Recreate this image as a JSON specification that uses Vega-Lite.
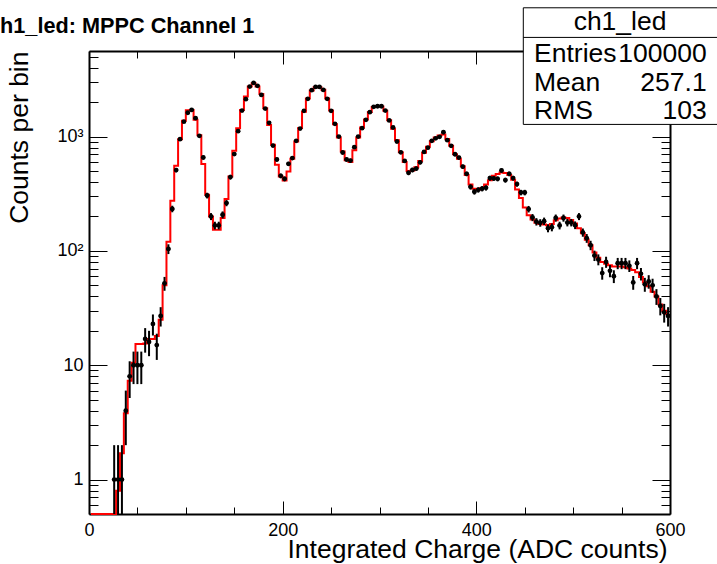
{
"$schema": "https://vega.github.io/schema/vega-lite/v6.json",
"width": 581, "height": 463,
"autosize": "none",
"padding": {"left": 89, "top": 51, "right": 47, "bottom": 50},
"background": "white",
"config": {
  "view": {"stroke": null},
  "font": "Liberation Sans",
  "axis": {"domainColor": "black", "domainWidth": 2, "tickColor": "black", "tickWidth": 1, "labelColor": "black", "labelFont": "Liberation Sans", "labelFontSize": 18, "grid": false, "labelOverlap": false, "labelFlush": false, "titleColor": "black", "titleFont": "Liberation Sans", "titleFontSize": 26.5, "titleFontWeight": "normal"}
},
"title": {"text": "ch1_led: MPPC Channel 1", "anchor": "start", "frame": "group", "dx": -101, "dy": 47, "offset": 0, "baseline": "alphabetic", "fontSize": 21.7, "fontWeight": "bold", "font": "Liberation Sans", "color": "black"},
"datasets": {
"model": [
{"c":2,"m":0.5},{"c":6,"m":0.5},{"c":10,"m":0.5},{"c":14,"m":0.5},{"c":18,"m":0.5},{"c":22,"m":0.5},{"c":26,"m":0.5},{"c":30,"m":0.8},{"c":34,"m":1.7},{"c":38,"m":3.8},
{"c":42,"m":7.3},{"c":46,"m":10.5},{"c":50,"m":15.3},{"c":54,"m":15.3},{"c":58,"m":15.5},{"c":62,"m":17},{"c":66,"m":17},{"c":70,"m":18},{"c":74,"m":25},{"c":78,"m":50},
{"c":82,"m":120},{"c":86,"m":274},{"c":90,"m":555},{"c":94,"m":949},{"c":98,"m":1372},{"c":102,"m":1700},{"c":106,"m":1711},{"c":110,"m":1400},{"c":114,"m":1028},{"c":118,"m":575},
{"c":122,"m":310},{"c":126,"m":200},{"c":130,"m":153},{"c":134,"m":153},{"c":138,"m":194},{"c":142,"m":284},{"c":146,"m":448},{"c":150,"m":750},{"c":154,"m":1184},{"c":158,"m":1711},
{"c":162,"m":2238},{"c":166,"m":2735},{"c":170,"m":2930},{"c":174,"m":2735},{"c":178,"m":2361},{"c":182,"m":1771},{"c":186,"m":1265},{"c":190,"m":847},{"c":194,"m":566},{"c":198,"m":448},
{"c":202,"m":413},{"c":206,"m":494},{"c":210,"m":640},{"c":214,"m":905},{"c":218,"m":1190},{"c":222,"m":1650},{"c":226,"m":2150},{"c":230,"m":2530},{"c":234,"m":2700},{"c":238,"m":2700},
{"c":242,"m":2560},{"c":246,"m":2150},{"c":250,"m":1690},{"c":254,"m":1280},{"c":258,"m":980},{"c":262,"m":740},{"c":266,"m":620},{"c":270,"m":600},{"c":274,"m":760},{"c":278,"m":980},
{"c":282,"m":1200},{"c":286,"m":1410},{"c":290,"m":1640},{"c":294,"m":1810},{"c":298,"m":1850},{"c":302,"m":1830},{"c":306,"m":1680},{"c":310,"m":1390},{"c":314,"m":1170},{"c":318,"m":930},
{"c":322,"m":730},{"c":326,"m":600},{"c":330,"m":500},{"c":334,"m":505},{"c":338,"m":540},{"c":342,"m":610},{"c":346,"m":720},{"c":350,"m":815},{"c":354,"m":910},{"c":358,"m":980},
{"c":362,"m":1020},{"c":366,"m":1040},{"c":370,"m":950},{"c":374,"m":830},{"c":378,"m":700},{"c":382,"m":640},{"c":386,"m":550},{"c":390,"m":460},{"c":394,"m":380},{"c":398,"m":350},
{"c":402,"m":345},{"c":406,"m":355},{"c":410,"m":380},{"c":414,"m":415},{"c":418,"m":455},{"c":422,"m":470},{"c":426,"m":485},{"c":430,"m":480},{"c":434,"m":460},{"c":438,"m":420},
{"c":442,"m":345},{"c":446,"m":290},{"c":450,"m":240},{"c":454,"m":205},{"c":458,"m":188},{"c":462,"m":176},{"c":466,"m":172},{"c":470,"m":170},{"c":474,"m":168},{"c":478,"m":172},
{"c":482,"m":185},{"c":486,"m":192},{"c":490,"m":196},{"c":494,"m":194},{"c":498,"m":186},{"c":502,"m":174},{"c":506,"m":158},{"c":510,"m":143},{"c":514,"m":125},{"c":518,"m":112},
{"c":522,"m":97},{"c":526,"m":87},{"c":530,"m":80},{"c":534,"m":77},{"c":538,"m":75},{"c":542,"m":73},{"c":546,"m":73},{"c":550,"m":73},{"c":554,"m":72},{"c":558,"m":70},
{"c":562,"m":68},{"c":566,"m":65},{"c":570,"m":59},{"c":574,"m":53},{"c":578,"m":49},{"c":582,"m":44},{"c":586,"m":40},{"c":590,"m":34},{"c":594,"m":30},{"c":598,"m":28}
],
"pts": [
{"c":26,"lo":24,"hi":28,"n":1,"elo":0.5,"ehi":2},
{"c":30,"lo":28,"hi":32,"n":1,"elo":0.5,"ehi":2},
{"c":34,"lo":32,"hi":36,"n":1,"elo":0.5,"ehi":2},
{"c":38,"lo":36,"hi":40,"n":4,"elo":2,"ehi":6},
{"c":42,"lo":40,"hi":44,"n":8,"elo":5.17,"ehi":10.83},
{"c":46,"lo":44,"hi":48,"n":10,"elo":6.84,"ehi":13.16},
{"c":50,"lo":48,"hi":52,"n":10,"elo":6.84,"ehi":13.16},
{"c":54,"lo":52,"hi":56,"n":10,"elo":6.84,"ehi":13.16},
{"c":58,"lo":56,"hi":60,"n":17,"elo":12.88,"ehi":21.12},
{"c":62,"lo":60,"hi":64,"n":16,"elo":12,"ehi":20},
{"c":66,"lo":64,"hi":68,"n":23,"elo":18.2,"ehi":27.8},
{"c":70,"lo":68,"hi":72,"n":15,"elo":11.13,"ehi":18.87},
{"c":74,"lo":72,"hi":76,"n":27,"elo":21.8,"ehi":32.2},
{"c":78,"lo":76,"hi":80,"n":52,"elo":44.8,"ehi":59.2},
{"c":82,"lo":80,"hi":84,"n":104,"elo":93.8,"ehi":114.2},
{"c":86,"lo":84,"hi":88,"n":233,"elo":217.7,"ehi":248.3},
{"c":90,"lo":88,"hi":92,"n":509,"elo":486.4,"ehi":531.6},
{"c":94,"lo":92,"hi":96,"n":949,"elo":918.2,"ehi":979.8},
{"c":98,"lo":96,"hi":100,"n":1350,"elo":1313.3,"ehi":1386.7},
{"c":102,"lo":100,"hi":104,"n":1615,"elo":1574.8,"ehi":1655.2},
{"c":106,"lo":104,"hi":108,"n":1711,"elo":1669.6,"ehi":1752.4},
{"c":110,"lo":108,"hi":112,"n":1449,"elo":1410.9,"ehi":1487.1},
{"c":114,"lo":112,"hi":116,"n":1015,"elo":983.1,"ehi":1046.9},
{"c":118,"lo":116,"hi":120,"n":656,"elo":630.4,"ehi":681.6},
{"c":122,"lo":120,"hi":124,"n":305,"elo":287.5,"ehi":322.5},
{"c":126,"lo":124,"hi":128,"n":200,"elo":185.9,"ehi":214.1},
{"c":130,"lo":128,"hi":132,"n":167,"elo":154.1,"ehi":179.9},
{"c":134,"lo":132,"hi":136,"n":167,"elo":154.1,"ehi":179.9},
{"c":138,"lo":136,"hi":140,"n":207,"elo":192.6,"ehi":221.4},
{"c":142,"lo":140,"hi":144,"n":262,"elo":245.8,"ehi":278.2},
{"c":146,"lo":144,"hi":148,"n":442,"elo":421,"ehi":463},
{"c":150,"lo":148,"hi":152,"n":702,"elo":675.5,"ehi":728.5},
{"c":154,"lo":152,"hi":156,"n":1115,"elo":1081.6,"ehi":1148.4},
{"c":158,"lo":156,"hi":160,"n":1687,"elo":1645.9,"ehi":1728.1},
{"c":162,"lo":160,"hi":164,"n":2124,"elo":2077.9,"ehi":2170.1},
{"c":166,"lo":164,"hi":168,"n":2735,"elo":2682.7,"ehi":2787.3},
{"c":170,"lo":168,"hi":172,"n":2944,"elo":2889.7,"ehi":2998.3},
{"c":174,"lo":172,"hi":176,"n":2775,"elo":2722.3,"ehi":2827.7},
{"c":178,"lo":176,"hi":180,"n":2314,"elo":2265.9,"ehi":2362.1},
{"c":182,"lo":180,"hi":184,"n":1757,"elo":1715.1,"ehi":1798.9},
{"c":186,"lo":184,"hi":188,"n":1318,"elo":1281.7,"ehi":1354.3},
{"c":190,"lo":188,"hi":192,"n":834,"elo":805.1,"ehi":862.9},
{"c":194,"lo":192,"hi":196,"n":630,"elo":604.9,"ehi":655.1},
{"c":198,"lo":196,"hi":200,"n":453,"elo":431.7,"ehi":474.3},
{"c":202,"lo":200,"hi":204,"n":427,"elo":406.3,"ehi":447.7},
{"c":206,"lo":204,"hi":208,"n":577,"elo":553,"ehi":601},
{"c":210,"lo":208,"hi":212,"n":648,"elo":622.5,"ehi":673.5},
{"c":214,"lo":212,"hi":216,"n":918,"elo":887.7,"ehi":948.3},
{"c":218,"lo":216,"hi":220,"n":1175,"elo":1140.7,"ehi":1209.3},
{"c":222,"lo":220,"hi":224,"n":1679,"elo":1638,"ehi":1720},
{"c":226,"lo":224,"hi":228,"n":2137,"elo":2090.8,"ehi":2183.2},
{"c":230,"lo":228,"hi":232,"n":2543,"elo":2492.6,"ehi":2593.4},
{"c":234,"lo":232,"hi":236,"n":2718,"elo":2665.9,"ehi":2770.1},
{"c":238,"lo":236,"hi":240,"n":2718,"elo":2665.9,"ehi":2770.1},
{"c":242,"lo":240,"hi":244,"n":2559,"elo":2508.4,"ehi":2609.6},
{"c":246,"lo":244,"hi":248,"n":2137,"elo":2090.8,"ehi":2183.2},
{"c":250,"lo":248,"hi":252,"n":1679,"elo":1638,"ehi":1720},
{"c":254,"lo":252,"hi":256,"n":1291,"elo":1255.1,"ehi":1326.9},
{"c":258,"lo":256,"hi":260,"n":1000,"elo":968.4,"ehi":1031.6},
{"c":262,"lo":260,"hi":264,"n":725,"elo":698.1,"ehi":751.9},
{"c":266,"lo":264,"hi":268,"n":630,"elo":604.9,"ehi":655.1},
{"c":270,"lo":268,"hi":272,"n":617,"elo":592.2,"ehi":641.8},
{"c":274,"lo":272,"hi":276,"n":808,"elo":779.6,"ehi":836.4},
{"c":278,"lo":276,"hi":280,"n":1000,"elo":968.4,"ehi":1031.6},
{"c":282,"lo":280,"hi":284,"n":1184,"elo":1149.6,"ehi":1218.4},
{"c":286,"lo":284,"hi":288,"n":1400,"elo":1362.6,"ehi":1437.4},
{"c":290,"lo":288,"hi":292,"n":1634,"elo":1593.6,"ehi":1674.4},
{"c":294,"lo":292,"hi":296,"n":1820,"elo":1777.3,"ehi":1862.7},
{"c":298,"lo":296,"hi":300,"n":1840,"elo":1797.1,"ehi":1882.9},
{"c":302,"lo":300,"hi":304,"n":1840,"elo":1797.1,"ehi":1882.9},
{"c":306,"lo":304,"hi":308,"n":1687,"elo":1645.9,"ehi":1728.1},
{"c":310,"lo":308,"hi":312,"n":1385,"elo":1347.8,"ehi":1422.2},
{"c":314,"lo":312,"hi":316,"n":1200,"elo":1165.4,"ehi":1234.6},
{"c":318,"lo":316,"hi":320,"n":905,"elo":874.9,"ehi":935.1},
{"c":322,"lo":320,"hi":324,"n":728,"elo":701,"ehi":755},
{"c":326,"lo":324,"hi":328,"n":612,"elo":587.3,"ehi":636.7},
{"c":330,"lo":328,"hi":332,"n":482,"elo":460,"ehi":504},
{"c":334,"lo":332,"hi":336,"n":510,"elo":487.4,"ehi":532.6},
{"c":338,"lo":336,"hi":340,"n":525,"elo":502.1,"ehi":547.9},
{"c":342,"lo":340,"hi":344,"n":595,"elo":570.6,"ehi":619.4},
{"c":346,"lo":344,"hi":348,"n":733,"elo":705.9,"ehi":760.1},
{"c":350,"lo":348,"hi":352,"n":799,"elo":770.7,"ehi":827.3},
{"c":354,"lo":352,"hi":356,"n":918,"elo":887.7,"ehi":948.3},
{"c":358,"lo":356,"hi":360,"n":965,"elo":933.9,"ehi":996.1},
{"c":362,"lo":360,"hi":364,"n":995,"elo":963.5,"ehi":1026.5},
{"c":366,"lo":364,"hi":368,"n":1090,"elo":1057,"ehi":1123},
{"c":370,"lo":368,"hi":372,"n":930,"elo":899.5,"ehi":960.5},
{"c":374,"lo":372,"hi":376,"n":830,"elo":801.2,"ehi":858.8},
{"c":378,"lo":376,"hi":380,"n":700,"elo":673.5,"ehi":726.5},
{"c":382,"lo":380,"hi":384,"n":655,"elo":629.4,"ehi":680.6},
{"c":386,"lo":384,"hi":388,"n":545,"elo":521.7,"ehi":568.3},
{"c":390,"lo":388,"hi":392,"n":472,"elo":450.3,"ehi":493.7},
{"c":394,"lo":392,"hi":396,"n":363,"elo":343.9,"ehi":382.1},
{"c":398,"lo":396,"hi":400,"n":329,"elo":310.9,"ehi":347.1},
{"c":402,"lo":400,"hi":404,"n":342,"elo":323.5,"ehi":360.5},
{"c":406,"lo":404,"hi":408,"n":350,"elo":331.3,"ehi":368.7},
{"c":410,"lo":408,"hi":412,"n":356,"elo":337.1,"ehi":374.9},
{"c":414,"lo":412,"hi":416,"n":433,"elo":412.2,"ehi":453.8},
{"c":418,"lo":416,"hi":420,"n":430,"elo":409.3,"ehi":450.7},
{"c":422,"lo":420,"hi":424,"n":427,"elo":406.3,"ehi":447.7},
{"c":426,"lo":424,"hi":428,"n":505,"elo":482.5,"ehi":527.5},
{"c":430,"lo":428,"hi":432,"n":416,"elo":395.6,"ehi":436.4},
{"c":434,"lo":432,"hi":436,"n":472,"elo":450.3,"ehi":493.7},
{"c":438,"lo":436,"hi":440,"n":433,"elo":412.2,"ehi":453.8},
{"c":442,"lo":440,"hi":444,"n":384,"elo":364.4,"ehi":403.6},
{"c":446,"lo":444,"hi":448,"n":324,"elo":306,"ehi":342},
{"c":450,"lo":448,"hi":452,"n":324,"elo":306,"ehi":342},
{"c":454,"lo":452,"hi":456,"n":232,"elo":216.8,"ehi":247.2},
{"c":458,"lo":456,"hi":460,"n":196,"elo":182,"ehi":210},
{"c":462,"lo":460,"hi":464,"n":180,"elo":166.6,"ehi":193.4},
{"c":466,"lo":464,"hi":468,"n":176,"elo":162.7,"ehi":189.3},
{"c":470,"lo":468,"hi":472,"n":182,"elo":168.5,"ehi":195.5},
{"c":474,"lo":472,"hi":476,"n":158,"elo":145.4,"ehi":170.6},
{"c":478,"lo":476,"hi":480,"n":161,"elo":148.3,"ehi":173.7},
{"c":482,"lo":480,"hi":484,"n":194,"elo":180.1,"ehi":207.9},
{"c":486,"lo":484,"hi":488,"n":167,"elo":154.1,"ehi":179.9},
{"c":490,"lo":488,"hi":492,"n":194,"elo":180.1,"ehi":207.9},
{"c":494,"lo":492,"hi":496,"n":177,"elo":163.7,"ehi":190.3},
{"c":498,"lo":496,"hi":500,"n":177,"elo":163.7,"ehi":190.3},
{"c":502,"lo":500,"hi":504,"n":168,"elo":155,"ehi":181},
{"c":506,"lo":504,"hi":508,"n":200,"elo":185.9,"ehi":214.1},
{"c":510,"lo":508,"hi":512,"n":145,"elo":133,"ehi":157},
{"c":514,"lo":512,"hi":516,"n":129,"elo":117.6,"ehi":140.4},
{"c":518,"lo":516,"hi":520,"n":112,"elo":101.4,"ehi":122.6},
{"c":522,"lo":520,"hi":524,"n":91,"elo":81.5,"ehi":100.5},
{"c":526,"lo":524,"hi":528,"n":84,"elo":74.8,"ehi":93.2},
{"c":530,"lo":528,"hi":532,"n":64,"elo":56,"ehi":72},
{"c":534,"lo":532,"hi":536,"n":80,"elo":71.1,"ehi":88.9},
{"c":538,"lo":536,"hi":540,"n":67,"elo":58.8,"ehi":75.2},
{"c":542,"lo":540,"hi":544,"n":60,"elo":52.3,"ehi":67.7},
{"c":546,"lo":544,"hi":548,"n":78,"elo":69.2,"ehi":86.8},
{"c":550,"lo":548,"hi":552,"n":78,"elo":69.2,"ehi":86.8},
{"c":554,"lo":552,"hi":556,"n":78,"elo":69.2,"ehi":86.8},
{"c":558,"lo":556,"hi":560,"n":74,"elo":65.4,"ehi":82.6},
{"c":562,"lo":560,"hi":564,"n":53,"elo":45.7,"ehi":60.3},
{"c":566,"lo":564,"hi":568,"n":78,"elo":69.2,"ehi":86.8},
{"c":570,"lo":568,"hi":572,"n":63,"elo":55.1,"ehi":70.9},
{"c":574,"lo":572,"hi":576,"n":51,"elo":43.9,"ehi":58.1},
{"c":578,"lo":576,"hi":580,"n":54,"elo":46.7,"ehi":61.3},
{"c":582,"lo":580,"hi":584,"n":50,"elo":42.9,"ehi":57.1},
{"c":586,"lo":584,"hi":588,"n":40,"elo":33.7,"ehi":46.3},
{"c":590,"lo":588,"hi":592,"n":33,"elo":27.3,"ehi":38.7},
{"c":594,"lo":592,"hi":596,"n":29,"elo":23.6,"ehi":34.4},
{"c":598,"lo":596,"hi":600,"n":27,"elo":21.8,"ehi":32.2}
],
"stats": [{"stat": "Entries", "value": "100000"}, {"stat": "Mean", "value": "257.1"}, {"stat": "RMS", "value": "103"}],
"hdr": [{"name": "ch1_led"}]
},
"layer": [
{
  "data": {"name": "model"},
  "mark": {"type": "line", "interpolate": "step", "color": "#ff0000", "strokeWidth": 2},
  "encoding": {
    "x": {"field": "c", "type": "quantitative", "scale": {"domain": [0, 600], "nice": false, "zero": false},
      "axis": {"orient": "bottom", "values": [0,50,100,150,200,250,300,350,400,450,500,550,600], "format": "d",
        "labelExpr": "datum.value % 200 == 0 ? datum.label : ''",
        "tickSize": {"condition": {"test": "datum.value % 200 == 0", "value": -13}, "value": -7},
        "labelPadding": 20,
        "title": "Integrated Charge (ADC counts)", "titleAnchor": "end", "titleAlign": "right", "titleBaseline": "alphabetic", "titleX": 578, "titleY": 43}},
    "y": {"field": "m", "type": "quantitative", "scale": {"type": "log", "domain": [0.5, 5600], "nice": false},
      "axis": {"orient": "left", "values": [0.6,0.7,0.8,0.9,1,2,3,4,5,6,7,8,9,10,20,30,40,50,60,70,80,90,100,200,300,400,500,600,700,800,900,1000,2000,3000,4000,5000],
        "labelExpr": "datum.value == 1000 ? '10³' : datum.value == 100 ? '10²' : datum.value == 10 ? '10' : datum.value == 1 ? '1' : ''",
        "tickSize": {"condition": {"test": "datum.value == 1 || datum.value == 10 || datum.value == 100 || datum.value == 1000", "value": -18}, "value": -9},
        "labelPadding": 24,
        "title": "Counts per bin", "titleAngle": -90, "titleAnchor": "end", "titleAlign": "right", "titleBaseline": "alphabetic", "titleX": -62, "titleY": 0}}
  }
},
{
  "data": {"name": "pts"},
  "mark": {"type": "rule", "color": "black", "strokeWidth": 2},
  "encoding": {
    "x": {"field": "c", "type": "quantitative", "axis": null},
    "y": {"field": "elo", "type": "quantitative", "scale": {"type": "log", "domain": [0.5, 5600], "nice": false}, "axis": null},
    "y2": {"field": "ehi"}
  }
},
{
  "data": {"name": "pts"},
  "mark": {"type": "rule", "color": "black", "strokeWidth": 2},
  "encoding": {
    "x": {"field": "lo", "type": "quantitative", "axis": null},
    "x2": {"field": "hi"},
    "y": {"field": "n", "type": "quantitative", "scale": {"type": "log", "domain": [0.5, 5600], "nice": false}, "axis": null}
  }
},
{
  "data": {"name": "pts"},
  "mark": {"type": "circle", "color": "black", "size": 23, "opacity": 1},
  "encoding": {
    "x": {"field": "c", "type": "quantitative",
      "axis": {"orient": "top", "values": [0,50,100,150,200,250,300,350,400,450,500,550,600], "labels": false, "title": null,
        "tickSize": {"condition": {"test": "datum.value % 200 == 0", "value": -13}, "value": -7}}},
    "y": {"field": "n", "type": "quantitative", "scale": {"type": "log", "domain": [0.5, 5600], "nice": false},
      "axis": {"orient": "right", "values": [0.6,0.7,0.8,0.9,1,2,3,4,5,6,7,8,9,10,20,30,40,50,60,70,80,90,100,200,300,400,500,600,700,800,900,1000,2000,3000,4000,5000], "labels": false, "title": null,
        "tickSize": {"condition": {"test": "datum.value == 1 || datum.value == 10 || datum.value == 100 || datum.value == 1000", "value": -18}, "value": -9}}}
  }
},
{
  "data": {"values": [{}]},
  "mark": {"type": "rect", "fill": "white", "stroke": "black", "strokeWidth": 1},
  "encoding": {
    "x": {"datum": 448.5, "type": "quantitative", "axis": null},
    "x2": {"datum": 660},
    "y": {"datum": 13370, "type": "quantitative", "scale": {"type": "log", "domain": [0.5, 5600], "nice": false}, "axis": null},
    "y2": {"datum": 1277}
  }
},
{
  "data": {"values": [{}]},
  "mark": {"type": "rule", "color": "black", "strokeWidth": 1},
  "encoding": {
    "x": {"datum": 448.5, "type": "quantitative", "axis": null},
    "x2": {"datum": 660},
    "y": {"datum": 7362, "type": "quantitative", "scale": {"type": "log", "domain": [0.5, 5600], "nice": false}, "axis": null}
  }
},
{
  "data": {"name": "hdr"},
  "mark": {"type": "text", "align": "center", "baseline": "alphabetic", "fontSize": 26.5, "font": "Liberation Sans", "color": "black"},
  "encoding": {
    "x": {"datum": 548.4, "type": "quantitative", "axis": null},
    "y": {"datum": 8550, "type": "quantitative", "scale": {"type": "log", "domain": [0.5, 5600], "nice": false}, "axis": null},
    "text": {"field": "name"}
  }
},
{
  "data": {"name": "stats"},
  "mark": {"type": "text", "align": "left", "baseline": "alphabetic", "fontSize": 26.5, "font": "Liberation Sans", "color": "black"},
  "encoding": {
    "x": {"datum": 459.6, "type": "quantitative", "axis": null},
    "y": {"field": "stat", "type": "nominal", "scale": {"type": "point", "domain": ["Entries", "Mean", "RMS"], "range": [11.3, 68], "padding": 0}, "axis": null},
    "text": {"field": "stat"}
  }
},
{
  "data": {"name": "stats"},
  "mark": {"type": "text", "align": "right", "baseline": "alphabetic", "fontSize": 26.5, "font": "Liberation Sans", "color": "black"},
  "encoding": {
    "x": {"datum": 637.9, "type": "quantitative", "axis": null},
    "y": {"field": "stat", "type": "nominal", "scale": {"type": "point", "domain": ["Entries", "Mean", "RMS"], "range": [11.3, 68], "padding": 0}, "axis": null},
    "text": {"field": "value"}
  }
}
],
"resolve": {"scale": {"y": "independent"}, "axis": {"x": "independent", "y": "independent"}}
}
